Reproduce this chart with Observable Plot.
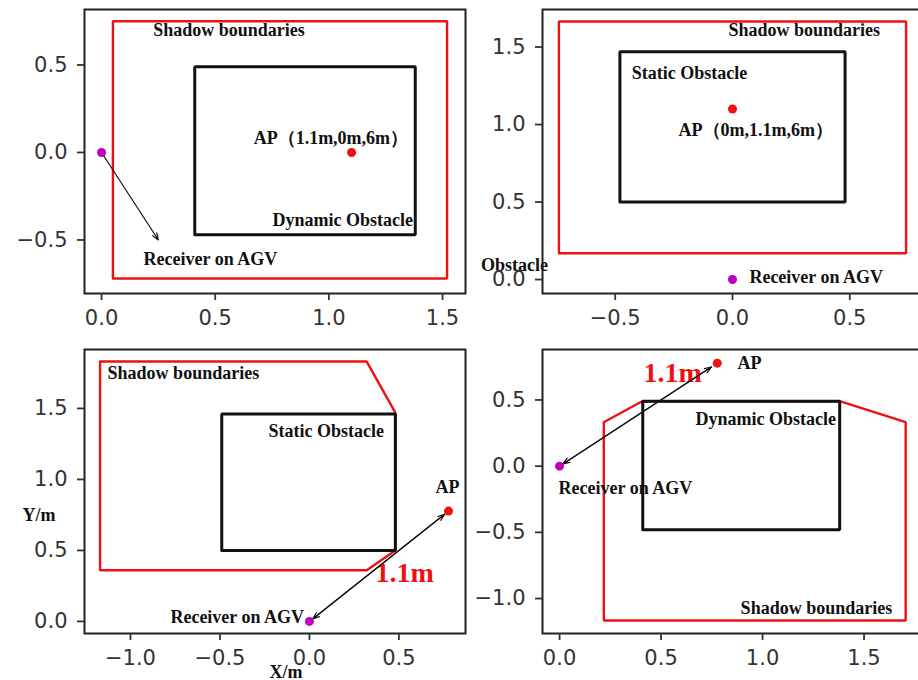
<!DOCTYPE html>
<html><head><meta charset="utf-8">
<script src="https://cdn.jsdelivr.net/npm/d3@7"></script>
<script src="https://cdn.jsdelivr.net/npm/@observablehq/plot@0.6"></script>
<style>
html,body{margin:0;padding:0;background:#fff;overflow:hidden}
#wrap{position:relative;width:918px;height:680px;overflow:hidden;background:#fff}
#wrap svg{position:absolute}
</style></head><body><div id="wrap"></div><script>
// ---------- Panel A (top-left) ----------
const aXTicks = [0, 0.5, 1.0, 1.5];
const aYTicks = [-0.5, 0, 0.5];
const aShadow = [[0.05,-0.72],[1.52,-0.72],[1.52,0.75],[0.05,0.75],[0.05,-0.72]];
const aObstacle = [[0.41,-0.47],[1.38,-0.47],[1.38,0.49],[0.41,0.49],[0.41,-0.47]];
const aAP = [[1.1, 0]];
const aRx = [[0, 0]];
const aArrows = [[0, 0, 0.25, -0.5]];
const aLabels = [
  ["Shadow boundaries", 0.227, 0.697],
  ["AP\uFF081.1m,0m,6m\uFF09", 0.669, 0.08],
  ["Dynamic Obstacle", 0.752, -0.389],
  ["Receiver on AGV", 0.185, -0.611]
];
const aRedLabels = [];

// ---------- Panel B (top-right) ----------
const bXTicks = [-0.5, 0, 0.5];
const bYTicks = [0, 0.5, 1.0, 1.5];
const bShadow = [[-0.74,0.17],[0.74,0.17],[0.74,1.665],[-0.74,1.665],[-0.74,0.17]];
const bObstacle = [[-0.48,0.5],[0.48,0.5],[0.48,1.47],[-0.48,1.47],[-0.48,0.5]];
const bAP = [[0, 1.1]];
const bRx = [[0, 0]];
const bArrows = [];
const bLabels = [
  ["Shadow boundaries", -0.017, 1.606],
  ["Static Obstacle", -0.43, 1.329],
  ["AP\uFF080m,1.1m,6m\uFF09", -0.23, 0.961],
  ["Receiver on AGV", 0.072, 0.013],
  ["Obstacle", -1.072, 0.09]
];
const bRedLabels = [];

// ---------- Panel C (bottom-left) ----------
const cXTicks = [-1.0, -0.5, 0, 0.5];
const cYTicks = [0, 0.5, 1.0, 1.5];
const cShadow = [[-1.17,1.83],[0.32,1.83],[0.48,1.47],[0.48,0.5],[0.32,0.36],[-1.17,0.36],[-1.17,1.83]];
const cObstacle = [[-0.49,0.5],[0.48,0.5],[0.48,1.46],[-0.49,1.46],[-0.49,0.5]];
const cAP = [[0.777, 0.777]];
const cRx = [[0, 0]];
const cArrows = [[0, 0, 0.777, 0.777]];
const cLabels = [
  ["Shadow boundaries", -1.128, 1.746],
  ["Static Obstacle", -0.229, 1.338],
  ["AP", 0.704, 0.944],
  ["Receiver on AGV", -0.777, 0.028],
  ["Y/m", -1.603, 0.746],
  ["X/m", -0.223, -0.359]
];
const cRedLabels = [["1.1m", 0.369, 0.338]];

// ---------- Panel D (bottom-right) ----------
const dXTicks = [0, 0.5, 1.0, 1.5];
const dYTicks = [-1.0, -0.5, 0, 0.5];
const dShadow = [[0.218,0.332],[0.407,0.49],[1.384,0.49],[1.705,0.332],[1.705,-1.166],[0.218,-1.166],[0.218,0.332]];
const dObstacle = [[0.41,-0.48],[1.38,-0.48],[1.38,0.49],[0.41,0.49],[0.41,-0.48]];
const dAP = [[0.777, 0.778]];
const dRx = [[0, 0]];
const dArrows = [[0, 0, 0.777, 0.778]];
const dLabels = [
  ["AP", 0.877, 0.776],
  ["Dynamic Obstacle", 0.67, 0.353],
  ["Receiver on AGV", -0.005, -0.168],
  ["Shadow boundaries", 0.892, -1.075]
];
const dRedLabels = [["1.1m", 0.414, 0.70]];

// ---------- rendering ----------
const fmt = d => (d < 0 ? "\u2212" : "") + Math.abs(d).toFixed(1);
const SERIF = "'Liberation Serif','Times New Roman',serif";
const RED = "#ee1111";
const MAG = "#bf00bf";

function panel(o) {
  const marks = [
    Plot.line(o.shadow, {x: d => d[0], y: d => d[1], stroke: RED, strokeWidth: 2.4, strokeLinejoin: "miter"}),
    Plot.line(o.obstacle, {x: d => d[0], y: d => d[1], stroke: "#111", strokeWidth: 3, strokeLinejoin: "miter"}),
    Plot.text(o.labels, {x: d => d[1], y: d => d[2], text: d => d[0], textAnchor: "start",
      fontFamily: SERIF, fontWeight: "bold", fontSize: 18, fill: "#111"}),
    Plot.text(o.redLabels, {x: d => d[1], y: d => d[2], text: d => d[0], textAnchor: "start",
      fontFamily: SERIF, fontWeight: "bold", fontSize: 28, fill: RED})
  ];
  if (o.arrows.length) {
    marks.push(Plot.arrow(o.arrows, {x1: d => d[0], y1: d => d[1], x2: d => d[2], y2: d => d[3],
      stroke: "#111", strokeWidth: 1.2, headLength: 9, headAngle: 40, insetStart: o.rxInset, insetEnd: o.apInset}));
    if (o.double) {
      marks.push(Plot.arrow(o.arrows, {x1: d => d[2], y1: d => d[3], x2: d => d[0], y2: d => d[1],
        stroke: "#111", strokeWidth: 1.2, headLength: 9, headAngle: 40, insetStart: o.apInset, insetEnd: o.rxInset}));
    }
  }
  marks.push(
    Plot.dot(o.ap, {x: d => d[0], y: d => d[1], r: 4.5, fill: RED}),
    Plot.dot(o.rx, {x: d => d[0], y: d => d[1], r: 4.5, fill: MAG}),
    Plot.frame({stroke: "#222", strokeWidth: 2}),
    Plot.axisX({ticks: o.xTicks, tickFormat: fmt, tickSize: 7, tickPadding: 10, label: null,
      stroke: "#333", strokeWidth: 1.8, fill: "#333", fontSize: 21}),
    Plot.axisY({ticks: o.yTicks, tickFormat: fmt, tickSize: 7, tickPadding: 10, label: null,
      stroke: "#333", strokeWidth: 1.8, fill: "#333", fontSize: 21})
  );
  const svg = Plot.plot({
    width: 470, height: 340,
    marginLeft: o.ml, marginRight: o.mr, marginTop: 9, marginBottom: 47,
    x: {domain: o.xDomain}, y: {domain: o.yDomain},
    style: {fontFamily: "'DejaVu Sans', sans-serif", fontSize: "21px", color: "#333",
      background: "transparent", overflow: "visible"},
    marks
  });
  svg.style.left = o.left + "px";
  svg.style.top = o.top + "px";
  svg.style.maxWidth = "none";
  document.getElementById("wrap").appendChild(svg);
}

panel({left: 0, top: 0, ml: 84, mr: 5, xDomain: [-0.075, 1.601], yDomain: [-0.806, 0.817],
  xTicks: aXTicks, yTicks: aYTicks, shadow: aShadow, obstacle: aObstacle, ap: aAP, rx: aRx,
  arrows: aArrows, labels: aLabels, redLabels: aRedLabels, rxInset: 3, apInset: 0, double: false});
panel({left: 460, top: 0, ml: 82, mr: 8, xDomain: [-0.81, 0.81], yDomain: [-0.09, 1.742],
  xTicks: bXTicks, yTicks: bYTicks, shadow: bShadow, obstacle: bObstacle, ap: bAP, rx: bRx,
  arrows: bArrows, labels: bLabels, redLabels: bRedLabels, rxInset: 0, apInset: 0, double: false});
panel({left: 0, top: 340, ml: 84, mr: 5, xDomain: [-1.257, 0.872], yDomain: [-0.085, 1.915],
  xTicks: cXTicks, yTicks: cYTicks, shadow: cShadow, obstacle: cObstacle, ap: cAP, rx: cRx,
  arrows: cArrows, labels: cLabels, redLabels: cRedLabels, rxInset: 4, apInset: 5, double: true});
panel({left: 460, top: 340, ml: 82, mr: 8, xDomain: [-0.084, 1.788], yDomain: [-1.264, 0.881],
  xTicks: dXTicks, yTicks: dYTicks, shadow: dShadow, obstacle: dObstacle, ap: dAP, rx: dRx,
  arrows: dArrows, labels: dLabels, redLabels: dRedLabels, rxInset: 4, apInset: 7, double: true});
</script></body></html>
